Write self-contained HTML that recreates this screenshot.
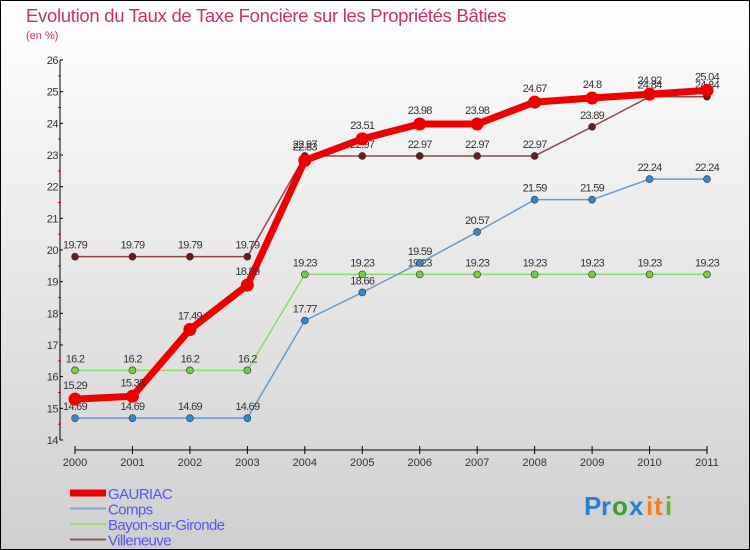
<!DOCTYPE html>
<html><head><meta charset="utf-8"><style>
html,body{margin:0;padding:0;}
body{width:750px;height:550px;overflow:hidden;font-family:"Liberation Sans",sans-serif;}
</style></head><body>
<svg id="chart" width="750" height="550" xmlns="http://www.w3.org/2000/svg" style="display:block">
<defs><linearGradient id="bg" x1="0" y1="0" x2="0" y2="1"><stop offset="0" stop-color="#ffffff"/><stop offset="1" stop-color="#cfcfcf"/></linearGradient></defs>
<rect x="0.5" y="0.5" width="749" height="549" fill="url(#bg)" stroke="#000" stroke-width="1"/>
<text x="26" y="22" font-size="18.5" fill="#c8306a" letter-spacing="-0.3">Evolution du Taux de Taxe Foncière sur les Propriétés Bâties</text>
<text x="26" y="39" font-size="11" fill="#c8306a">(en %)</text>
<g id="axes"></g><g id="series"></g><g id="legend"></g>
<g font-size="26" font-weight="bold">
<text x="584" y="515" fill="#2a7fd0">P</text><text x="601" y="515" fill="#2a7fd0">r</text><text x="612" y="515" fill="#3aa030">o</text><text x="629" y="515" fill="#2a7fd0">x</text><text x="646" y="515" fill="#f08020">i</text><text x="654" y="515" fill="#f08020">t</text><text x="665" y="515" fill="#6ab030">i</text>
</g>
</svg>
<script>
const years=[2000,2001,2002,2003,2004,2005,2006,2007,2008,2009,2010,2011];
const gauriac=[15.29,15.38,17.49,18.89,22.83,23.51,23.98,23.98,24.67,24.8,24.92,25.04];
const comps=[14.69,14.69,14.69,14.69,17.77,18.66,19.59,20.57,21.59,21.59,22.24,22.24];
const bayon=[16.2,16.2,16.2,16.2,19.23,19.23,19.23,19.23,19.23,19.23,19.23,19.23];
const villeneuve=[19.79,19.79,19.79,19.79,22.97,22.97,22.97,22.97,22.97,23.89,24.84,24.84];
const yTicks=[14,15,16,17,18,19,20,21,22,23,24,25,26];
const NS="http://www.w3.org/2000/svg";
const xs=i=>75+i*(707-75)/(years.length-1);
const ys=v=>440-(v-14)*(380/12);
function mk(tag,attrs,parent){const e=document.createElementNS(NS,tag);for(const k in attrs)e.setAttribute(k,attrs[k]);parent.appendChild(e);return e;}
const axes=document.getElementById('axes');
mk('line',{x1:60,y1:ys(26),x2:60,y2:ys(14),stroke:'#000'},axes);
yTicks.forEach(t=>{
  const l=mk('line',{x1:60,y1:ys(t),x2:63,y2:ys(t),stroke:'#000'},axes);
  
  
  const tx=mk('text',{x:58,y:ys(t)+4,'font-size':11,'text-anchor':'end',fill:'#333','letter-spacing':'-0.5'},axes);
  
  
  tx.textContent=t;
  if(t<26){const m=mk('line',{x1:58,y1:ys(t+0.5),x2:61,y2:ys(t+0.5),stroke:'#e00000'},axes);
  
  }
});
mk('line',{x1:xs(0),y1:450,x2:xs(years.length-1),y2:450,stroke:'#000'},axes);
years.forEach((y,i)=>{
  mk('line',{x1:xs(i),y1:446,x2:xs(i),y2:454,stroke:'#000'},axes);
  const tx=mk('text',{x:xs(i),y:466,'font-size':11,'text-anchor':'middle',fill:'#333'},axes);
  
  
  tx.textContent=y;
});
const ser=document.getElementById('series');
function drawSeries(name,vals,color,dot,w,r,labelDy){
  const g=mk('g',{},ser);
  
  
  const p=mk('polyline',{points:vals.map((v,i)=>xs(i)+','+ys(v)).join(' '),fill:'none',stroke:color,'stroke-width':w,'stroke-linejoin':'round'},g);
  
  
  vals.forEach((v,i)=>{
    const c=mk('circle',{cx:xs(i),cy:ys(v),r:r,fill:dot,stroke:'#333','stroke-width':r>5?0:0.6},g);
    
    
    const t=mk('text',{x:xs(i),y:ys(v)+labelDy,'font-size':11,'text-anchor':'middle',fill:'#333','letter-spacing':'-0.7'},g);
    
    
    t.textContent=v;
  });
}
drawSeries('villeneuve',villeneuve,'#8a4a4a','#6a1a1a',1.5,3.5,-8);
drawSeries('bayon',bayon,'#88dd66','#77cc44',1.5,3.5,-8);
drawSeries('comps',comps,'#6699cc','#3388cc',1.5,3.5,-8);
drawSeries('gauriac',gauriac,'#ee0000','#ee0000',7,6.5,-10);
const lg=document.getElementById('legend');
const items=[['GAURIAC','#ee0000',7],['Comps','#7aa6cc',2],['Bayon-sur-Gironde','#99dd77',2],['Villeneuve','#8a5a5a',2]];
items.forEach((it,i)=>{
  const y=493+i*15.5;
  const g=mk('g',{},lg);
  
  
  mk('line',{x1:70,y1:y,x2:106,y2:y,stroke:it[1],'stroke-width':it[2]},g);
  const t=mk('text',{x:108,y:y+6,'font-size':15,fill:'#5555ee','letter-spacing':'-0.6'},g);
  t.textContent=it[0];
});
</script>
</body></html>
